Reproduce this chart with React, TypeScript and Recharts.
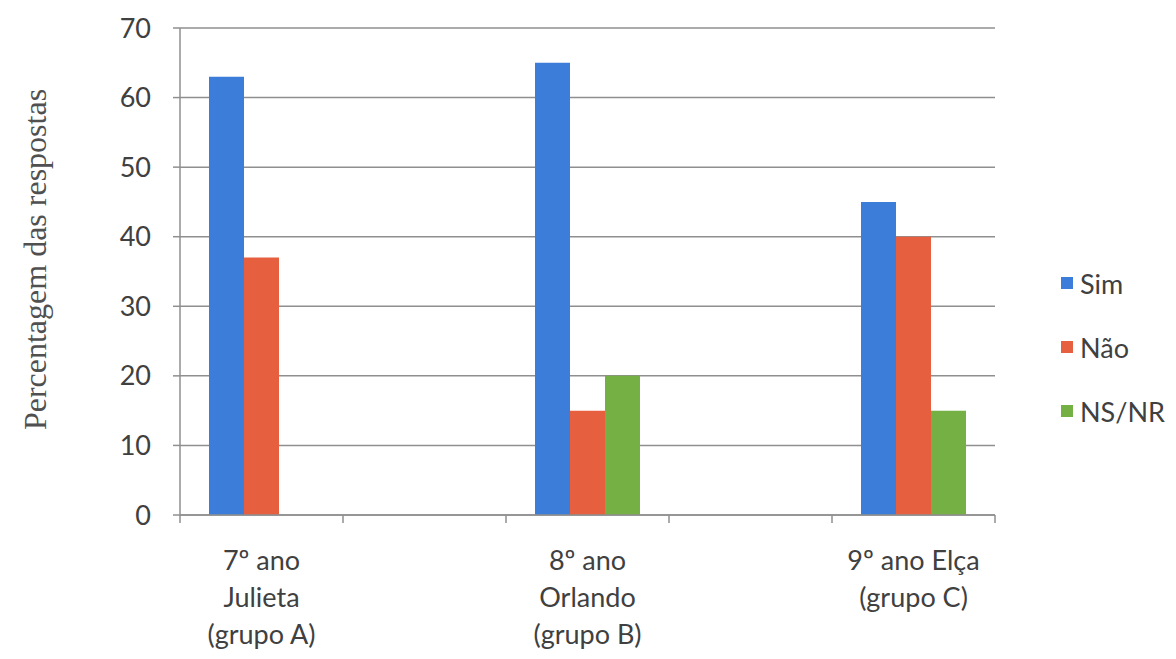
import React from 'react';
import {
  BarChart,
  Bar,
  XAxis,
  YAxis,
  CartesianGrid
} from 'recharts';

// five slots: the empty ones keep the wide spacing between the three classes
const groups = [
  ['7º ano', 'Julieta', '(grupo A)'],
  [],
  ['8º ano', 'Orlando', '(grupo B)'],
  [],
  ['9º ano Elça', '(grupo C)']
];
const sim = [63, null, 65, null, 45];
const nao = [37, null, 15, null, 40];
const nsnr = [0, null, 20, null, 15];
const yTicks = [0, 10, 20, 30, 40, 50, 60, 70];
// boundaries between the slots, in slot-index units
const edgeTicks = [-0.5, 0.5, 1.5, 2.5, 3.5, 4.5];

const SERIES = [
  { key: 'sim', name: 'Sim', color: '#3b7dd8' },
  { key: 'nao', name: 'Não', color: '#e6603f' },
  { key: 'nsnr', name: 'NS/NR', color: '#74b044' }
];

const data = groups.map((g, i) => ({
  id: i,
  sim: sim[i],
  nao: nao[i],
  nsnr: nsnr[i]
}));

const FONT = 'Lato, "Open Sans", sans-serif';
const TEXT = '#404040';
const GRID = '#8f8f8f';

const GroupTick = ({ x, y, payload }: any) => {
  const lines: string[] = groups[payload.value] || [];
  return (
    <text x={x} y={y} textAnchor="middle" fill={TEXT} fontFamily={FONT} fontSize={27}>
      {lines.map((t, i) => (
        <tspan key={i} x={x} dy={i === 0 ? 46 : 37}>
          {t}
        </tspan>
      ))}
    </text>
  );
};

const SeriesLegend = () => (
  <div
    style={{
      position: 'absolute',
      left: 1053,
      top: 243,
      fontFamily: FONT,
      fontSize: 27,
      color: TEXT
    }}
  >
    {SERIES.map((s) => (
      <div key={s.key} style={{ display: 'flex', alignItems: 'center', height: 64 }}>
        <span style={{ width: 12, height: 12, background: s.color, marginRight: 7 }} />
        {s.name}
      </div>
    ))}
  </div>
);

export default function App() {
  return (
    <div style={{ position: 'relative', width: 1160, height: 645 }}>
      <BarChart
        width={1160}
        height={645}
        data={data}
        margin={{ top: 20, right: 173, left: 0, bottom: 0 }}
        barCategoryGap={27}
        barGap={0}
      >
        <CartesianGrid vertical={false} stroke={GRID} strokeWidth={1.5} />
        {/* axis line with ticks on the slot boundaries */}
        <XAxis
          xAxisId="edges"
          dataKey="id"
          type="number"
          domain={[-0.5, 4.5]}
          ticks={edgeTicks}
          interval={0}
          allowDataOverflow
          height={1}
          tick={() => <g />}
          tickSize={8}
          stroke={GRID}
          strokeWidth={1.5}
        />
        <XAxis
          xAxisId="groups"
          dataKey="id"
          type="category"
          height={137}
          axisLine={false}
          tickLine={false}
          interval={0}
          tick={<GroupTick />}
        />
        <YAxis
          width={172}
          domain={[0, 70]}
          ticks={yTicks}
          interval={0}
          tickSize={7}
          tickMargin={22}
          stroke={GRID}
          strokeWidth={1.5}
          tick={{ fill: TEXT, fontFamily: FONT, fontSize: 27 }}
          label={{
            content: ({ viewBox }: any) => (
              <text
                x={0}
                y={0}
                transform={`translate(${viewBox.x + 38}, ${viewBox.y + viewBox.height / 2 - 12}) rotate(-90)`}
                textAnchor="middle"
                fill="#505050"
                fontFamily='"Liberation Serif", "DejaVu Serif", serif'
                fontSize={32}
              >
                Percentagem das respostas
              </text>
            )
          }}
        />
        {SERIES.map((s) => (
          <Bar
            key={s.key}
            xAxisId="groups"
            dataKey={s.key}
            name={s.name}
            fill={s.color}
            barSize={35}
            isAnimationActive={false}
          />
        ))}
      </BarChart>
      <SeriesLegend />
    </div>
  );
}
